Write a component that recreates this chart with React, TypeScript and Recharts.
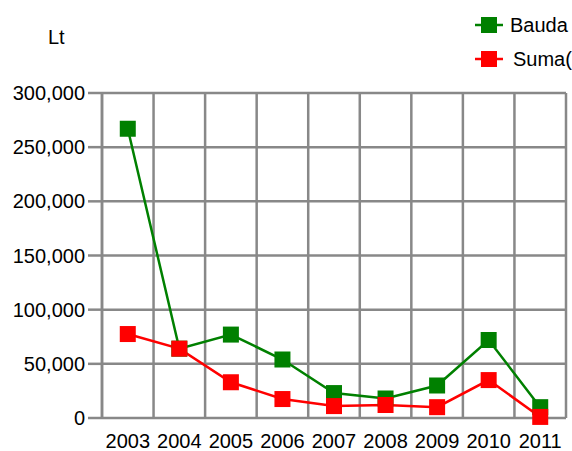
import {
  CartesianGrid,
  Line,
  LineChart,
  XAxis,
  YAxis,
} from "recharts";

// Yearly fines: count (green) and sum in Lt (red).
const years = ["2003", "2004", "2005", "2006", "2007", "2008", "2009", "2010", "2011"];
const baudaValues = [267000, 64000, 77000, 54000, 23000, 18000, 30000, 72000, 10000];
const sumaValues = [77500, 64000, 33000, 17500, 11000, 12000, 10000, 35000, 1000];
const yTicks = [0, 50000, 100000, 150000, 200000, 250000, 300000];

const seriesNames = { bauda: "Bauda  skaičius", suma: "Suma(Lt)" };
const GREEN = "#008000";
const RED = "#ff0000";
const GRID = "#888888";
const FONT = "'Liberation Sans', Arial, sans-serif";

// points sit in the middle of each year's cell; grid lines on the cell edges
const data = years.map((year, i) => ({
  pos: i + 0.5,
  year,
  bauda: baudaValues[i],
  suma: sumaValues[i],
}));
const edgeTicks = years.map((_, i) => i).concat(years.length);
const midTicks = years.map((_, i) => i + 0.5);

function SquareDot(props: any) {
  const { cx, cy, fill } = props;
  if (cx == null || cy == null) return null;
  return <rect x={cx - 8} y={cy - 8} width={16} height={16} fill={fill} />;
}

// legend lives outside the chart so it doesn't eat plot width
function ChartLegend() {
  const items = [
    { name: seriesNames.bauda, color: GREEN, textGap: 7 },
    { name: seriesNames.suma, color: RED, textGap: 10 },
  ];
  return (
    <div
      style={{
        position: "absolute",
        left: 475,
        top: 8,
        fontFamily: FONT,
        fontSize: 20,
        color: "#000",
      }}
    >
      {items.map((it) => (
        <div
          key={it.name}
          style={{ display: "flex", alignItems: "center", height: 34, whiteSpace: "pre" }}
        >
          <svg width={28} height={18}>
            <line x1={0} y1={9} x2={28} y2={9} stroke={it.color} strokeWidth={2.5} />
            <rect x={6} y={1} width={16} height={16} fill={it.color} />
          </svg>
          <span style={{ marginLeft: it.textGap }}>{it.name}</span>
        </div>
      ))}
    </div>
  );
}

export default function App() {
  return (
    <div
      style={{
        position: "absolute",
        left: 0,
        top: 0,
        width: 572,
        height: 451,
        overflow: "hidden",
        background: "#fff",
      }}
    >
      <LineChart
        width={572}
        height={451}
        data={data}
        margin={{ top: 93, right: 6, left: 0, bottom: 0 }}
      >
        <CartesianGrid stroke={GRID} strokeWidth={2.5} xAxisId="grid" />
        <XAxis
          xAxisId="grid"
          type="number"
          dataKey="pos"
          domain={[0, years.length]}
          ticks={edgeTicks}
          tickFormatter={() => ""}
          height={0}
          tickSize={12}
          stroke={GRID}
          strokeWidth={2.5}
          axisLine={false}
        />
        <XAxis
          xAxisId="lab"
          type="number"
          dataKey="pos"
          domain={[0, years.length]}
          ticks={midTicks}
          tickFormatter={(v: number) => years[Math.floor(v)]}
          height={33}
          tickSize={0}
          tickMargin={16}
          axisLine={false}
          tickLine={false}
          tick={{ fill: "#000", fontSize: 20, fontFamily: FONT }}
          interval={0}
        />
        <YAxis
          width={102}
          domain={[0, 300000]}
          ticks={yTicks}
          tickFormatter={(v: number) => v.toLocaleString("en-US")}
          tickSize={14}
          tickMargin={3}
          stroke={GRID}
          strokeWidth={2.5}
          tick={{ fill: "#000", fontSize: 20, fontFamily: FONT }}
          interval={0}
          label={{
            value: "Lt",
            position: "insideTopLeft",
            offset: 0,
            dx: 48,
            dy: -63,
            fill: "#000",
            fontSize: 20,
            fontFamily: FONT,
          }}
        />
        <Line
          xAxisId="lab"
          dataKey="bauda"
          name={seriesNames.bauda}
          stroke={GREEN}
          strokeWidth={2.5}
          dot={<SquareDot fill={GREEN} />}
          isAnimationActive={false}
        />
        <Line
          xAxisId="lab"
          dataKey="suma"
          name={seriesNames.suma}
          stroke={RED}
          strokeWidth={2.5}
          dot={<SquareDot fill={RED} />}
          isAnimationActive={false}
        />
      </LineChart>
      <ChartLegend />
    </div>
  );
}
